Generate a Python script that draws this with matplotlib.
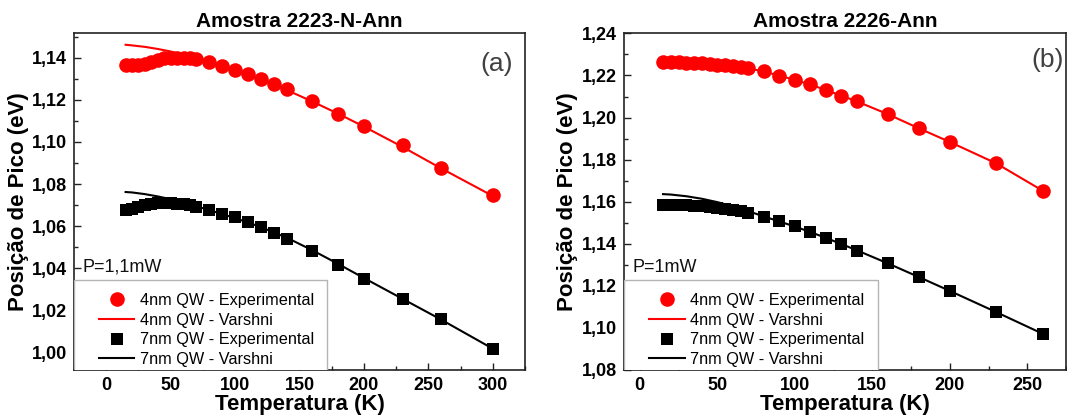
import matplotlib
matplotlib.use("Agg")
import matplotlib.pyplot as plt
from matplotlib.ticker import MultipleLocator, FuncFormatter
from matplotlib.lines import Line2D
from matplotlib.legend_handler import HandlerLine2D

plt.rcParams['font.family'] = ['Liberation Sans', 'DejaVu Sans']
plt.rcParams['font.weight'] = 'bold'

# ---- Amostra 2223-N-Ann ----
temp_a = [15, 20, 25, 30, 35, 40, 45, 50, 55, 60, 65, 70,
          80, 90, 100, 110, 120, 130, 140, 160, 180, 200, 230, 260, 300]
qw4_exp_a = [1.1366, 1.1364, 1.1366, 1.1372, 1.1382, 1.1391, 1.1397, 1.1400,
             1.1401, 1.1400, 1.1397, 1.1392,
             1.1379, 1.1361, 1.1343, 1.1322, 1.1301, 1.1276, 1.1250, 1.1195,
             1.1131, 1.1074, 1.0986, 1.0877, 1.0748]
qw7_exp_a = [1.0677, 1.0683, 1.0692, 1.0700, 1.0705, 1.0708, 1.0709, 1.0709,
             1.0707, 1.0703, 1.0698, 1.0690,
             1.0675, 1.0659, 1.0641, 1.0621, 1.0597, 1.0567, 1.0539, 1.0482,
             1.0417, 1.0350, 1.0253, 1.0159, 1.0016]
temp_fit_a = [15, 20, 30, 40, 50, 60, 70, 80, 90, 100, 110, 120, 130, 140,
              160, 180, 200, 230, 260, 300]
qw4_fit_a = [1.1462, 1.1459, 1.1452, 1.1442, 1.1430, 1.1416, 1.1400, 1.1383,
             1.1363, 1.1343, 1.1320, 1.1297, 1.1272, 1.1247, 1.1192, 1.1134,
             1.1073, 1.0976, 1.0874, 1.0743]
qw7_fit_a = [1.0762, 1.0760, 1.0752, 1.0741, 1.0728, 1.0712, 1.0694, 1.0676,
             1.0657, 1.0638, 1.0617, 1.0595, 1.0570, 1.0545, 1.0485, 1.0420,
             1.0353, 1.0254, 1.0155, 1.0017]

# ---- Amostra 2226-Ann ----
temp_b = [15, 20, 25, 30, 35, 40, 45, 50, 55, 60, 65, 70,
          80, 90, 100, 110, 120, 130, 140, 160, 180, 200, 230, 260]
qw4_exp_b = [1.2264, 1.2263, 1.2262, 1.2261, 1.2259, 1.2257, 1.2255, 1.2252,
             1.2249, 1.2245, 1.2240, 1.2234,
             1.2219, 1.2198, 1.2179, 1.2158, 1.2131, 1.2103, 1.2077, 1.2016,
             1.1948, 1.1884, 1.1782, 1.1652]
qw7_exp_b = [1.1586, 1.1586, 1.1585, 1.1583, 1.1581, 1.1578, 1.1575, 1.1571,
             1.1566, 1.1561, 1.1555, 1.1548,
             1.1525, 1.1508, 1.1484, 1.1456, 1.1429, 1.1397, 1.1368, 1.1308,
             1.1242, 1.1175, 1.1075, 1.0972]
temp_fit_b = [15, 20, 30, 40, 50, 60, 70, 80, 90, 100, 110, 120, 130, 140,
              160, 180, 200, 230, 260]
qw4_fit_b = [1.2268, 1.2267, 1.2264, 1.2259, 1.2252, 1.2244, 1.2234, 1.2219,
             1.2199, 1.2179, 1.2157, 1.2131, 1.2104, 1.2077, 1.2016, 1.1949,
             1.1884, 1.1782, 1.1652]
qw7_fit_b = [1.1636, 1.1634, 1.1626, 1.1614, 1.1598, 1.1578, 1.1555, 1.1530,
             1.1506, 1.1482, 1.1456, 1.1428, 1.1399, 1.1369, 1.1307, 1.1242,
             1.1176, 1.1075, 1.0972]

legend_labels = ['4nm QW - Experimental', '4nm QW - Varshni',
                 '7nm QW - Experimental', '7nm QW - Varshni']

panels = [
    dict(title='Amostra 2223-N-Ann', tag='(a)', power='P=1,1mW',
         t=temp_a, e4=qw4_exp_a, e7=qw7_exp_a,
         tf=temp_fit_a, f4=qw4_fit_a, f7=qw7_fit_a,
         xlim=(-25, 325), ylim=(0.9916, 1.1516),
         rect=[0.0694, 0.1106, 0.4227, 0.8091],
         tag_xy=(0.9375, 0.91), ylab_x=-0.100),
    dict(title='Amostra 2226-Ann', tag='(b)', power='P=1mW',
         t=temp_b, e4=qw4_exp_b, e7=qw7_exp_b,
         tf=temp_fit_b, f4=qw4_fit_b, f7=qw7_fit_b,
         xlim=(-10, 275), ylim=(1.08, 1.24),
         rect=[0.5851, 0.1106, 0.4140, 0.8091],
         tag_xy=(0.958, 0.921), ylab_x=-0.105),
]

comma = FuncFormatter(lambda v, p: f"{v:.2f}".replace('.', ','))
red = '#ff0000'

fig = plt.figure(figsize=(10.67, 4.16), dpi=100)

for p in panels:
    ax = fig.add_axes(p['rect'])
    l4, = ax.plot(p['tf'], p['f4'], color=red, lw=1.5, zorder=2)
    l7, = ax.plot(p['tf'], p['f7'], color='black', lw=1.5, zorder=2)
    m4, = ax.plot(p['t'], p['e4'], ls='none', marker='o', ms=10.5,
                  color=red, mew=0, zorder=3)
    m7, = ax.plot(p['t'], p['e7'], ls='none', marker='s', ms=9,
                  color='black', mew=0, zorder=3)

    ax.set_xlim(*p['xlim'])
    ax.set_ylim(*p['ylim'])
    ax.xaxis.set_major_locator(MultipleLocator(50))
    ax.xaxis.set_minor_locator(MultipleLocator(25))
    ax.yaxis.set_major_locator(MultipleLocator(0.02))
    ax.yaxis.set_minor_locator(MultipleLocator(0.01))
    ax.yaxis.set_major_formatter(comma)

    ax.tick_params(which='both', direction='in', top=False, right=False,
                   width=1.0, color='#222222', labelsize=13)
    ax.tick_params(which='major', length=5)
    ax.tick_params(which='minor', length=3)
    ax.tick_params(axis='x', pad=4.8)
    ax.tick_params(axis='y', pad=5)
    for s in ax.spines.values():
        s.set_linewidth(1.2)
        s.set_color('#222222')

    ax.set_title(p['title'], fontsize=15, fontweight='bold', pad=4.5)
    ax.set_xlabel('Temperatura (K)', fontsize=16, fontweight='bold')
    ax.xaxis.set_label_coords(0.5, -0.0725)
    ax.set_ylabel('Posição de Pico (eV)', fontsize=16, fontweight='bold')
    ax.yaxis.set_label_coords(p['ylab_x'], 0.5)

    ax.text(p['tag_xy'][0], p['tag_xy'][1], p['tag'], transform=ax.transAxes,
            ha='center', va='center', fontsize=19, color='#404040',
            fontweight='normal')
    ax.text(0.019, 0.305, p['power'], transform=ax.transAxes,
            ha='left', va='center', fontsize=13, color='#111111',
            fontweight='normal')

    # legend box sits on the lower-left corner; its lower part is hidden
    # behind the bottom spine
    leg = ax.legend([m4, l4, m7, l7], legend_labels, loc='lower left',
                    bbox_to_anchor=(0, -0.03), borderaxespad=0, frameon=True,
                    fancybox=False, framealpha=1, edgecolor='#b4b4b4',
                    prop={'size': 11.7, 'weight': 'normal'},
                    handlelength=2.9, handletextpad=0.32, borderpad=0.82,
                    labelspacing=0.28, numpoints=1,
                    handler_map={Line2D: HandlerLine2D(xpad=0.71)})
    frame = leg.get_frame()
    frame.set_linewidth(1.0)
    frame.set_clip_box(ax.bbox)
    frame.set_clip_on(True)

fig.savefig('out.png', dpi=100)
